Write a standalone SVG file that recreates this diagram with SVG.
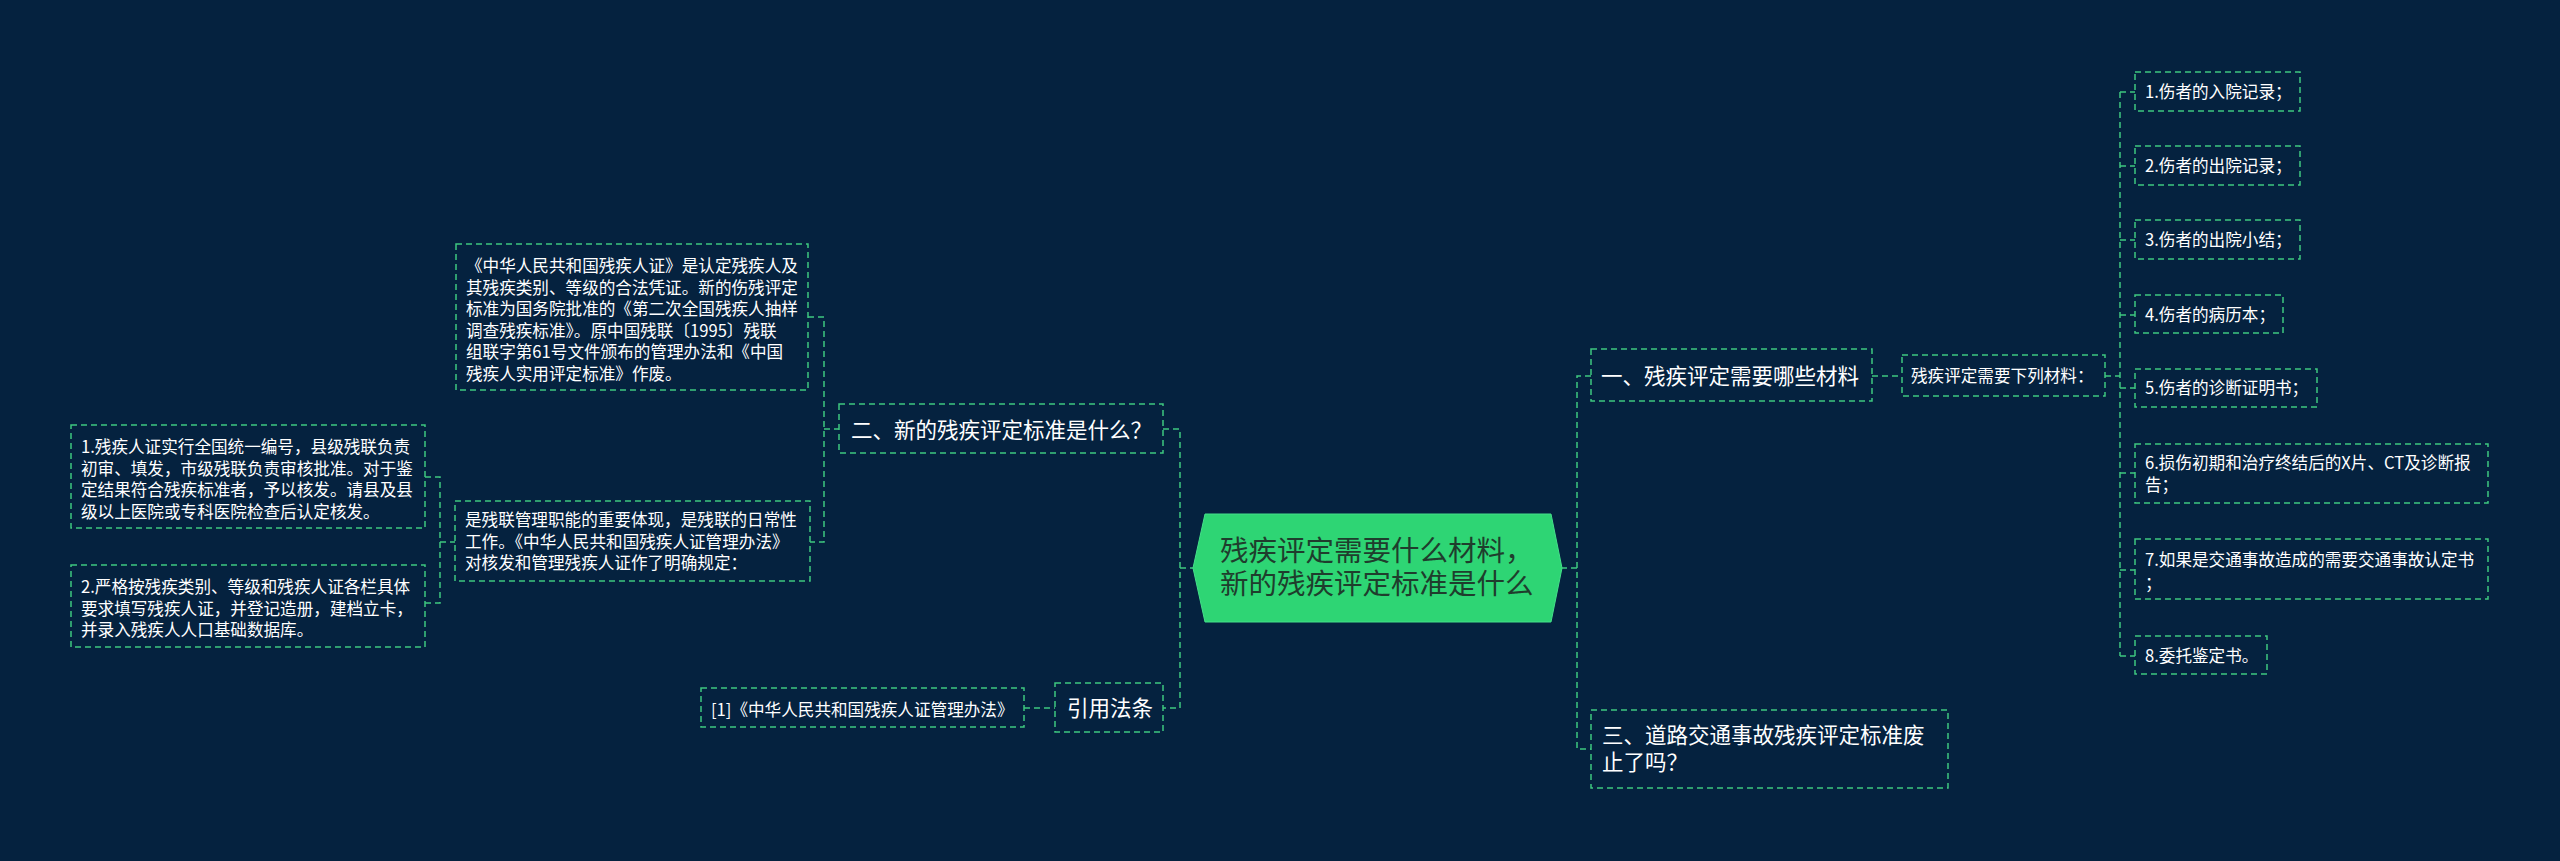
<svg xmlns="http://www.w3.org/2000/svg" width="2560" height="861" viewBox="0 0 2560 861">
<style>
.box{fill:#05223f;stroke:#3ec880;stroke-width:1.5;stroke-dasharray:6 4}
.ln{fill:none;stroke:#3ec880;stroke-width:1.5;stroke-dasharray:6 4}
.t{font-family:"Noto Sans CJK SC","Noto Sans",sans-serif;fill:#ffffff}
.s{font-size:16.6px}
.m{font-size:21.5px}
.c{font-size:28.5px;fill:#1f3d2d}
</style>
<rect width="2560" height="861" fill="#05223f"/>
<g id="connectors">
<path class="ln" d="M1163,429 H1180 V708 H1163 M1180,568 H1193"/>
<path class="ln" d="M808,317 H824 V542 H810 M824,429 H839"/>
<path class="ln" d="M425,477 H440 V603 H425 M440,542 H455"/>
<path class="ln" d="M1024,708 H1055"/>
<path class="ln" d="M1591,376 H1577 V749 H1591 M1577,568 H1562"/>
<path class="ln" d="M1872,376 H1902"/>
<path class="ln" d="M2105,376 H2120 M2120,92 V656 M2120,92 H2135 M2120,166 H2135 M2120,240 H2135 M2120,315 H2135 M2120,388 H2135 M2120,473 H2135 M2120,570 H2135 M2120,656 H2135"/>
</g>
<g id="center">
<polygon points="1193,568 1205,514 1551,514 1562,568 1551,622 1205,622" fill="#2ed574" stroke="#45e08a" stroke-width="1"/>
<text class="t c" x="1220" y="561">残疾评定需要什么材料，</text>
<text class="t c" x="1220" y="594">新的残疾评定标准是什么</text>
</g>
<g id="n2">
<rect class="box" x="839" y="404" width="324" height="49"/>
<text class="t m" x="851" y="438">二、新的残疾评定标准是什么？</text>
</g>
<g id="n2a">
<rect class="box" x="456" y="244" width="352" height="146"/>
<text class="t s" x="466" y="272.3">《中华人民共和国残疾人证》是认定残疾人及</text>
<text class="t s" x="466" y="293.8">其残疾类别、等级的合法凭证。新的伤残评定</text>
<text class="t s" x="466" y="315.2">标准为国务院批准的《第二次全国残疾人抽样</text>
<text class="t s" x="466" y="336.7">调查残疾标准》。原中国残联〔1995〕残联</text>
<text class="t s" x="466" y="358.2">组联字第61号文件颁布的管理办法和《中国</text>
<text class="t s" x="466" y="379.6">残疾人实用评定标准》作废。</text>
</g>
<g id="n2b">
<rect class="box" x="455" y="501" width="355" height="80"/>
<text class="t s" x="465" y="526.3">是残联管理职能的重要体现，是残联的日常性</text>
<text class="t s" x="465" y="547.8">工作。《中华人民共和国残疾人证管理办法》</text>
<text class="t s" x="465" y="569.3">对核发和管理残疾人证作了明确规定：</text>
</g>
<g id="n2b1">
<rect class="box" x="71" y="425" width="354" height="103"/>
<text class="t s" x="81" y="452.8">1.残疾人证实行全国统一编号，县级残联负责</text>
<text class="t s" x="81" y="474.5">初审、填发，市级残联负责审核批准。对于鉴</text>
<text class="t s" x="81" y="496.2">定结果符合残疾标准者，予以核发。请县及县</text>
<text class="t s" x="81" y="517.9">级以上医院或专科医院检查后认定核发。</text>
</g>
<g id="n2b2">
<rect class="box" x="71" y="565" width="354" height="82"/>
<text class="t s" x="81" y="593.3">2.严格按残疾类别、等级和残疾人证各栏具体</text>
<text class="t s" x="81" y="614.8">要求填写残疾人证，并登记造册，建档立卡，</text>
<text class="t s" x="81" y="636.3">并录入残疾人人口基础数据库。</text>
</g>
<g id="ref">
<rect class="box" x="1055" y="683" width="108" height="49"/>
<text class="t m" x="1067" y="716">引用法条</text>
</g>
<g id="ref1">
<rect class="box" x="701" y="688" width="323" height="39"/>
<text class="t s" x="711" y="716.3">[1]《中华人民共和国残疾人证管理办法》</text>
</g>
<g id="n1">
<rect class="box" x="1591" y="349" width="281" height="52"/>
<text class="t m" x="1601" y="384">一、残疾评定需要哪些材料</text>
</g>
<g id="n1a">
<rect class="box" x="1902" y="355" width="203" height="41"/>
<text class="t s" x="1911" y="382">残疾评定需要下列材料：</text>
</g>
<g id="i1"><rect class="box" x="2135" y="72" width="165" height="39"/><text class="t s" x="2145" y="98">1.伤者的入院记录；</text></g>
<g id="i2"><rect class="box" x="2135" y="146" width="165" height="39"/><text class="t s" x="2145" y="172">2.伤者的出院记录；</text></g>
<g id="i3"><rect class="box" x="2135" y="220" width="165" height="39"/><text class="t s" x="2145" y="246">3.伤者的出院小结；</text></g>
<g id="i4"><rect class="box" x="2135" y="295" width="148" height="38"/><text class="t s" x="2145" y="321">4.伤者的病历本；</text></g>
<g id="i5"><rect class="box" x="2135" y="369" width="182" height="38"/><text class="t s" x="2145" y="394">5.伤者的诊断证明书；</text></g>
<g id="i6"><rect class="box" x="2135" y="444" width="353" height="59"/><text class="t s" x="2145" y="469.3">6.损伤初期和治疗终结后的X片、CT及诊断报</text><text class="t s" x="2145" y="491.3">告；</text></g>
<g id="i7"><rect class="box" x="2135" y="539" width="353" height="60"/><text class="t s" x="2145" y="566.3">7.如果是交通事故造成的需要交通事故认定书</text><text class="t s" x="2145" y="589.3">；</text></g>
<g id="i8"><rect class="box" x="2135" y="636" width="132" height="38"/><text class="t s" x="2145" y="662">8.委托鉴定书。</text></g>
<g id="n3">
<rect class="box" x="1591" y="710" width="357" height="78"/>
<text class="t m" x="1602" y="743">三、道路交通事故残疾评定标准废</text>
<text class="t m" x="1602" y="770">止了吗？</text>
</g>
</svg>
